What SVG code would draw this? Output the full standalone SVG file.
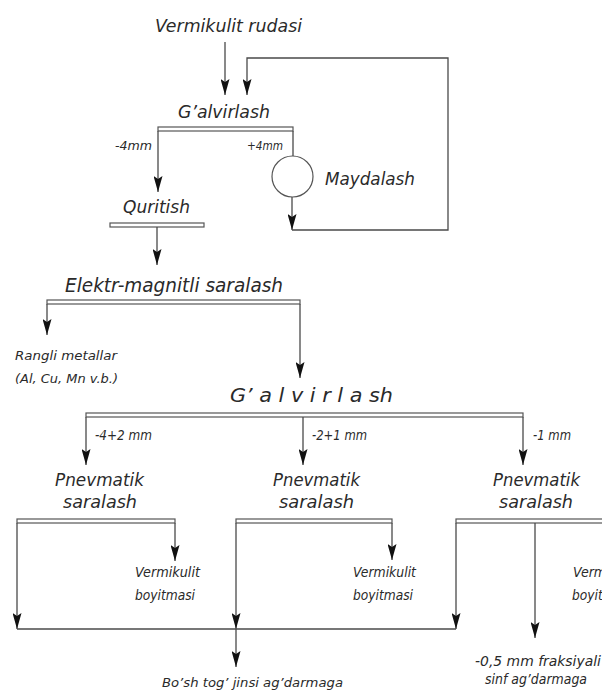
<svg xmlns="http://www.w3.org/2000/svg" width="602" height="693" viewBox="0 0 602 693">
  <defs>
    <marker id="ah" markerUnits="userSpaceOnUse" markerWidth="16" markerHeight="9" viewBox="0 0 16 9" refX="16" refY="4.5" orient="auto">
      <path d="M0,0 L16,4.5 L0,9 L3,4.5 Z" fill="#111"/>
    </marker>
    <style>
      .ln { fill: none; stroke: #4a4a4a; stroke-width: 1.3; }
      .ar { fill: none; stroke: #4a4a4a; stroke-width: 1.3; marker-end: url(#ah); }
      .bar { fill: #fff; stroke: #555; stroke-width: 1.2; }
      text { font-family: "DejaVu Sans", "Liberation Sans", sans-serif; font-style: italic; fill: #2a2a2a; }
      .t18 { font-size: 18.5px; }
      .t20 { font-size: 20px; }
      .t14 { font-size: 14px; }
      .t13 { font-size: 13px; }
      .t12 { font-size: 12.5px; }
    </style>
  </defs>

  <!-- connectors -->
  <g id="connectors">
    <path class="ar" d="M225,42 V95"/>
    <path class="ar" d="M292,197 V230"/>
    <path class="ar" d="M292,230 H448 V58 H247 V95"/>
    <rect class="bar" x="158" y="127" width="135" height="4"/>
    <path class="ar" d="M158,131 V192"/>
    <path class="ln" d="M293,131 V156"/>
    <rect class="bar" x="110" y="223" width="94" height="4"/>
    <path class="ar" d="M157,227 V265"/>
    <rect class="bar" x="47" y="300" width="253" height="4"/>
    <path class="ar" d="M47,304 V335"/>
    <path class="ar" d="M300,304 V378"/>
    <rect class="bar" x="86" y="413" width="437" height="4"/>
    <path class="ar" d="M86,417 V465"/>
    <path class="ar" d="M303,417 V465"/>
    <path class="ar" d="M523,417 V465"/>
    <rect class="bar" x="17" y="519" width="158" height="4"/>
    <path class="ar" d="M17,523 V629"/>
    <path class="ar" d="M175,523 V561"/>
    <rect class="bar" x="236" y="519" width="156" height="4"/>
    <path class="ar" d="M236,523 V629"/>
    <path class="ar" d="M236,629 V667"/>
    <path class="ar" d="M392,523 V560"/>
    <rect class="bar" x="456" y="519" width="170" height="4"/>
    <path class="ar" d="M456,523 V629"/>
    <path class="ar" d="M535,523 V638"/>
    <path class="ln" d="M17,629 H456"/>
  </g>

  <g id="feed">
    <text class="t18" x="155" y="32" textLength="147" lengthAdjust="spacingAndGlyphs">Vermikulit rudasi</text>
  </g>
  <g id="screen1">
    <text class="t18" x="178" y="118" textLength="92" lengthAdjust="spacingAndGlyphs">G’alvirlash</text>
    <text class="t12" x="115" y="150" textLength="37" lengthAdjust="spacingAndGlyphs">-4mm</text>
    <text class="t12" x="247" y="150" textLength="36" lengthAdjust="spacingAndGlyphs">+4mm</text>
  </g>
  <g id="crusher">
    <circle cx="292.5" cy="176.5" r="20.5" fill="#fff" stroke="#555" stroke-width="1.2"/>
    <text class="t18" x="325" y="185" textLength="90" lengthAdjust="spacingAndGlyphs">Maydalash</text>
  </g>
  <g id="dryer">
    <text class="t18" x="123" y="213" textLength="67" lengthAdjust="spacingAndGlyphs">Quritish</text>
  </g>
  <g id="magnetic">
    <text class="t20" x="65" y="292" textLength="218" lengthAdjust="spacingAndGlyphs">Elektr-magnitli saralash</text>
  </g>
  <g id="metals">
    <text class="t13" x="15" y="360" textLength="102" lengthAdjust="spacingAndGlyphs">Rangli metallar</text>
    <text class="t13" x="15" y="383" textLength="103" lengthAdjust="spacingAndGlyphs">(Al, Cu, Mn v.b.)</text>
  </g>
  <g id="screen2">
    <text class="t20" x="230" y="402" textLength="163" lengthAdjust="spacingAndGlyphs">G’ a l v i r l a sh</text>
    <text class="t14" x="95" y="440" textLength="57" lengthAdjust="spacingAndGlyphs">-4+2 mm</text>
    <text class="t14" x="312" y="440" textLength="55" lengthAdjust="spacingAndGlyphs">-2+1 mm</text>
    <text class="t14" x="533" y="440" textLength="38" lengthAdjust="spacingAndGlyphs">-1 mm</text>
  </g>
  <g id="pneumatic1">
    <text class="t18" x="55" y="486" textLength="89" lengthAdjust="spacingAndGlyphs">Pnevmatik</text>
    <text class="t18" x="63" y="508" textLength="74" lengthAdjust="spacingAndGlyphs">saralash</text>
  </g>
  <g id="pneumatic2">
    <text class="t18" x="273" y="486" textLength="87" lengthAdjust="spacingAndGlyphs">Pnevmatik</text>
    <text class="t18" x="279" y="508" textLength="75" lengthAdjust="spacingAndGlyphs">saralash</text>
  </g>
  <g id="pneumatic3">
    <text class="t18" x="493" y="486" textLength="87" lengthAdjust="spacingAndGlyphs">Pnevmatik</text>
    <text class="t18" x="499" y="508" textLength="74" lengthAdjust="spacingAndGlyphs">saralash</text>
  </g>
  <g id="concentrate1">
    <text class="t14" x="135" y="577" textLength="65" lengthAdjust="spacingAndGlyphs">Vermikulit</text>
    <text class="t14" x="135" y="600" textLength="60" lengthAdjust="spacingAndGlyphs">boyitmasi</text>
  </g>
  <g id="concentrate2">
    <text class="t14" x="353" y="577" textLength="63" lengthAdjust="spacingAndGlyphs">Vermikulit</text>
    <text class="t14" x="353" y="600" textLength="60" lengthAdjust="spacingAndGlyphs">boyitmasi</text>
  </g>
  <g id="concentrate3">
    <text class="t14" x="573" y="577" textLength="64" lengthAdjust="spacingAndGlyphs">Vermikulit</text>
    <text class="t14" x="572" y="600" textLength="60" lengthAdjust="spacingAndGlyphs">boyitmasi</text>
  </g>
  <g id="waste">
    <text class="t13" x="162" y="687" textLength="181" lengthAdjust="spacingAndGlyphs">Bo’sh tog’ jinsi ag’darmaga</text>
  </g>
  <g id="fines">
    <text class="t14" x="475" y="666" textLength="126" lengthAdjust="spacingAndGlyphs">-0,5 mm fraksiyali</text>
    <text class="t14" x="485" y="684" textLength="102" lengthAdjust="spacingAndGlyphs">sinf ag’darmaga</text>
  </g>
</svg>
